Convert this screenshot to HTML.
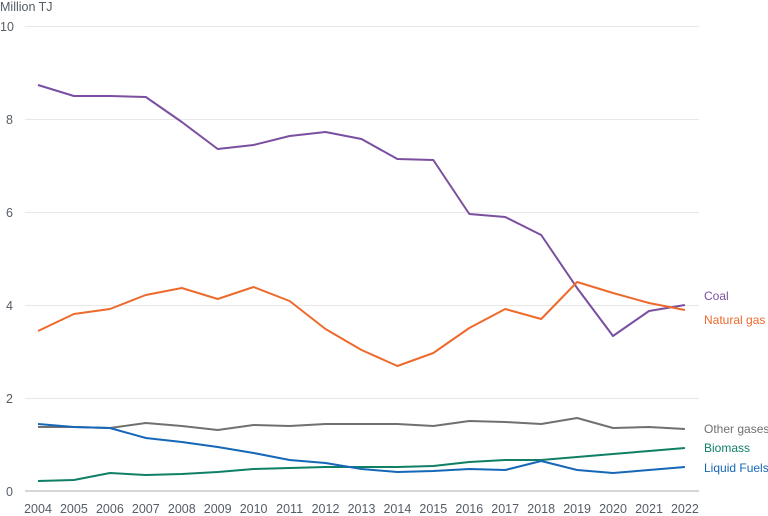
<!DOCTYPE html>
<html><head><meta charset="utf-8"><style>
html,body{margin:0;padding:0;background:#fff;}
svg{display:block;font-family:"Liberation Sans",sans-serif;}
</style></head><body>
<svg width="768" height="516" viewBox="0 0 768 516">
<g stroke="#e8e8e8" stroke-width="1">
<line x1="25" x2="699" y1="26.5" y2="26.5"/>
<line x1="25" x2="699" y1="119.5" y2="119.5"/>
<line x1="25" x2="699" y1="212.5" y2="212.5"/>
<line x1="25" x2="699" y1="305.5" y2="305.5"/>
<line x1="25" x2="699" y1="398.5" y2="398.5"/>
</g>
<line x1="25" x2="699" y1="491" y2="491" stroke="#c8c8c8" stroke-width="1.5"/>
<g fill="#555d66" font-size="12.5">
<text x="0" y="11">Million TJ</text>
<text x="0" y="31">10</text>
<text x="6" y="124">8</text>
<text x="6" y="217">6</text>
<text x="6" y="310">4</text>
<text x="6" y="403">2</text>
<text x="6" y="496">0</text>
</g>
<g fill="#555d66" font-size="12.5" text-anchor="middle">
<text x="38" y="513">2004</text><text x="73.9" y="513">2005</text><text x="109.9" y="513">2006</text><text x="145.8" y="513">2007</text><text x="181.8" y="513">2008</text><text x="217.7" y="513">2009</text><text x="253.6" y="513">2010</text><text x="289.6" y="513">2011</text><text x="325.5" y="513">2012</text><text x="361.5" y="513">2013</text><text x="397.4" y="513">2014</text><text x="433.3" y="513">2015</text><text x="469.3" y="513">2016</text><text x="505.2" y="513">2017</text><text x="541.2" y="513">2018</text><text x="577.1" y="513">2019</text><text x="613" y="513">2020</text><text x="649" y="513">2021</text><text x="684.9" y="513">2022</text>
</g>
<g fill="none" stroke-width="2" stroke-linejoin="round">
<polyline stroke="#7a4fa0" points="38,85 73.9,96 109.9,96 145.8,97 181.8,122 217.7,149 253.6,145 289.6,136 325.5,132 361.5,139 397.4,159 433.3,160 469.3,214 505.2,217 541.2,235 577.1,288 613,336 649,311 684.9,305"/>
<polyline stroke="#ee6a2c" points="38,331 73.9,314 109.9,309 145.8,295 181.8,288 217.7,299 253.6,287 289.6,301 325.5,329 361.5,350 397.4,366 433.3,353 469.3,328 505.2,309 541.2,319 577.1,282 613,293 649,303 684.9,310"/>
<polyline stroke="#707070" points="38,427 73.9,427 109.9,428 145.8,423 181.8,426 217.7,430 253.6,425 289.6,426 325.5,424 361.5,424 397.4,424 433.3,426 469.3,421 505.2,422 541.2,424 577.1,418 613,428 649,427 684.9,429"/>
<polyline stroke="#0f7f66" points="38,481 73.9,480 109.9,473 145.8,475 181.8,474 217.7,472 253.6,469 289.6,468 325.5,467 361.5,467 397.4,467 433.3,466 469.3,462 505.2,460 541.2,460 577.1,457 613,454 649,451 684.9,448"/>
<polyline stroke="#1667b8" points="38,424 73.9,427 109.9,428 145.8,438 181.8,442 217.7,447 253.6,453 289.6,460 325.5,463 361.5,469 397.4,472 433.3,471 469.3,469 505.2,470 541.2,461 577.1,470 613,473 649,470 684.9,467"/>
</g>
<g font-size="12">
<text x="704" y="300" fill="#7a4fa0">Coal</text>
<text x="704" y="324" fill="#ee6a2c">Natural gas</text>
<text x="704" y="433" fill="#707070">Other gases</text>
<text x="704" y="452" fill="#0f7f66">Biomass</text>
<text x="704" y="472" fill="#1667b8">Liquid Fuels</text>
</g>
</svg>
</body></html>
